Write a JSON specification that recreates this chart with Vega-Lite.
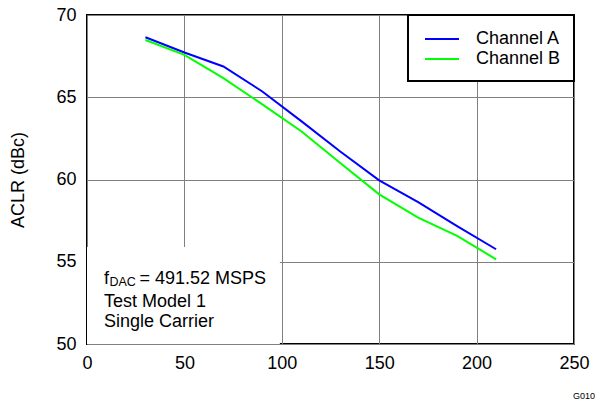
{
  "$schema": "https://vega.github.io/schema/vega-lite/v6.json",
  "autosize": "none",
  "width": 487,
  "height": 329,
  "padding": {"left": 87, "top": 15, "right": 21, "bottom": 57},
  "background": "white",
  "config": {
    "font": "Liberation Sans",
    "view": {"stroke": "black", "strokeWidth": 2},
    "axis": {
      "domain": false,
      "ticks": false,
      "grid": true,
      "gridColor": "#808080",
      "gridWidth": 1,
      "gridOpacity": 1,
      "labelFlush": false,
      "labelFont": "Liberation Sans",
      "labelFontSize": 18,
      "labelColor": "black",
      "titleFont": "Liberation Sans",
      "titleFontSize": 18,
      "titleFontWeight": "normal",
      "titleColor": "black"
    }
  },
  "title": {
    "text": "G010",
    "orient": "bottom",
    "anchor": "end",
    "fontSize": 9,
    "fontWeight": "normal",
    "font": "Liberation Sans",
    "color": "black",
    "dx": 6,
    "offset": 20
  },
  "datasets": {
    "aclr": [
      {"freq": 30, "aclr": 68.65, "channel": "Channel A"},
      {"freq": 50, "aclr": 67.72, "channel": "Channel A"},
      {"freq": 70, "aclr": 66.87, "channel": "Channel A"},
      {"freq": 90, "aclr": 65.35, "channel": "Channel A"},
      {"freq": 110, "aclr": 63.55, "channel": "Channel A"},
      {"freq": 130, "aclr": 61.7, "channel": "Channel A"},
      {"freq": 150, "aclr": 59.95, "channel": "Channel A"},
      {"freq": 170, "aclr": 58.63, "channel": "Channel A"},
      {"freq": 190, "aclr": 57.17, "channel": "Channel A"},
      {"freq": 210, "aclr": 55.76, "channel": "Channel A"},
      {"freq": 30, "aclr": 68.48, "channel": "Channel B"},
      {"freq": 50, "aclr": 67.58, "channel": "Channel B"},
      {"freq": 70, "aclr": 66.16, "channel": "Channel B"},
      {"freq": 90, "aclr": 64.57, "channel": "Channel B"},
      {"freq": 110, "aclr": 62.93, "channel": "Channel B"},
      {"freq": 130, "aclr": 61.0, "channel": "Channel B"},
      {"freq": 150, "aclr": 59.1, "channel": "Channel B"},
      {"freq": 170, "aclr": 57.68, "channel": "Channel B"},
      {"freq": 190, "aclr": 56.57, "channel": "Channel B"},
      {"freq": 210, "aclr": 55.15, "channel": "Channel B"}
    ]
  },
  "layer": [
    {
      "data": {"values": [{"left": 0, "right": 99, "bottom": 50, "top": 55.9}]},
      "mark": {"type": "rect", "fill": "white"},
      "encoding": {
        "x": {"field": "left", "type": "quantitative"},
        "x2": {"field": "right"},
        "y": {"field": "bottom", "type": "quantitative"},
        "y2": {"field": "top"}
      }
    },
    {
      "data": {"name": "aclr"},
      "mark": {"type": "line", "strokeWidth": 2},
      "encoding": {
        "x": {
          "field": "freq",
          "type": "quantitative",
          "scale": {"domain": [0, 250], "nice": false},
          "axis": {"values": [0, 50, 100, 150, 200, 250], "title": null, "labelPadding": 10}
        },
        "y": {
          "field": "aclr",
          "type": "quantitative",
          "scale": {"domain": [50, 70], "nice": false, "zero": false},
          "axis": {
            "values": [50, 55, 60, 65, 70],
            "title": "ACLR (dBc)",
            "labelPadding": 11,
            "titleX": -64,
            "titleY": 164.5,
            "titleBaseline": "alphabetic",
            "titleAngle": -90
          }
        },
        "color": {
          "field": "channel",
          "type": "nominal",
          "scale": {"domain": ["Channel A", "Channel B"], "range": ["#0000FF", "#00FF00"]},
          "legend": {
            "title": null,
            "orient": "top-right",
            "offset": 0,
            "fillColor": "white",
            "strokeColor": "black",
            "padding": 13,
            "symbolType": "M-0.7,0H2.7",
            "symbolSize": 400,
            "symbolStrokeWidth": 2,
            "labelFontSize": 18,
            "labelFont": "Liberation Sans",
            "labelColor": "black",
            "labelOffset": 33,
            "rowPadding": 0,
            "encode": {"legend": {"update": {"strokeWidth": {"value": 2}}}}
          }
        }
      }
    },
    {
      "data": {"values": [{"t": "f"}]},
      "mark": {"type": "text", "align": "left", "baseline": "alphabetic", "fontSize": 18, "color": "black"},
      "encoding": {
        "text": {"field": "t"},
        "x": {"datum": 8.73, "type": "quantitative"},
        "y": {"datum": 53.65, "type": "quantitative"}
      }
    },
    {
      "data": {"values": [{"t": "DAC"}]},
      "mark": {"type": "text", "align": "left", "baseline": "alphabetic", "fontSize": 12.5, "color": "black", "dx": 5.5, "dy": 2.5},
      "encoding": {
        "text": {"field": "t"},
        "x": {"datum": 8.73, "type": "quantitative"},
        "y": {"datum": 53.65, "type": "quantitative"}
      }
    },
    {
      "data": {"values": [{"t": "= 491.52 MSPS"}]},
      "mark": {"type": "text", "align": "left", "baseline": "alphabetic", "fontSize": 18, "color": "black", "dx": 35.5},
      "encoding": {
        "text": {"field": "t"},
        "x": {"datum": 8.73, "type": "quantitative"},
        "y": {"datum": 53.65, "type": "quantitative"}
      }
    },
    {
      "data": {"values": [{"t": ["Test Model 1", "Single Carrier"]}]},
      "mark": {"type": "text", "align": "left", "baseline": "alphabetic", "fontSize": 18, "color": "black", "lineHeight": 20.5},
      "encoding": {
        "text": {"field": "t"},
        "x": {"datum": 8.73, "type": "quantitative"},
        "y": {"datum": 52.27, "type": "quantitative"}
      }
    }
  ]
}
